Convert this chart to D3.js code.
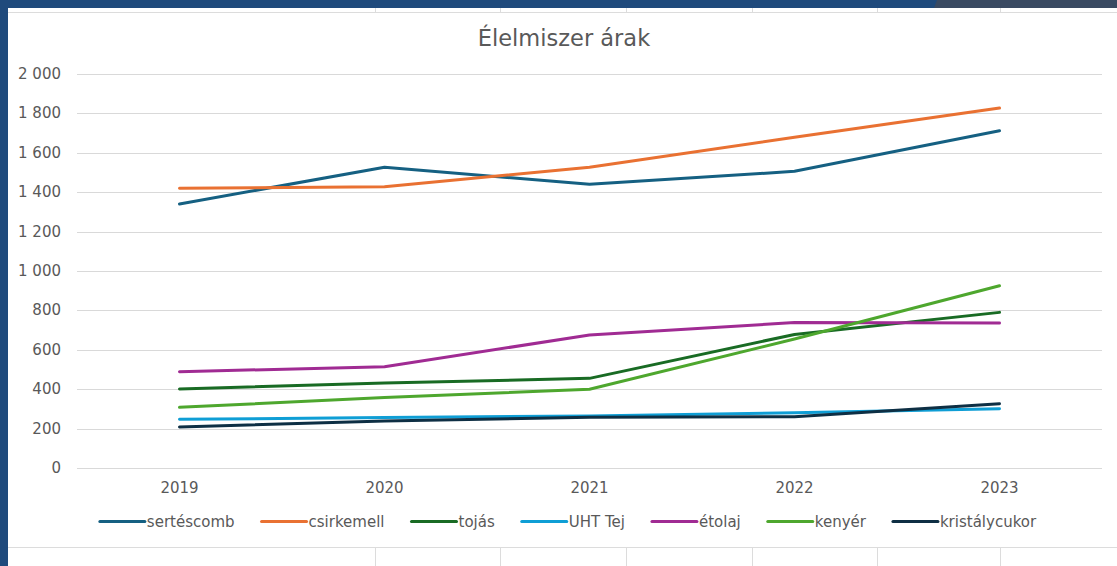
<!DOCTYPE html>
<html>
<head>
<meta charset="utf-8">
<script src="https://cdn.jsdelivr.net/npm/d3@7"></script>
<style>
  body { margin: 0; background: #fff; }
  svg { display: block; }
  text { font-family: "DejaVu Sans", "Liberation Sans", sans-serif; fill: #595959; }
</style>
</head>
<body>
<svg width="1117" height="566"></svg>
<script>
const years = ["2019", "2020", "2021", "2022", "2023"]
const yTicks = [0, 200, 400, 600, 800, 1000, 1200, 1400, 1600, 1800, 2000]

const sertescomb = [1340, 1527, 1440, 1506, 1712]
const csirkemell = [1420, 1428, 1527, 1679, 1827]
const tojas = [401, 431, 455, 678, 790]
const uhtTej = [247, 256, 264, 281, 301]
const etolaj = [489, 514, 675, 738, 736]
const kenyer = [308, 358, 400, 655, 925]
const kristalycukor = [208, 239, 257, 260, 326]

const seriesNames = ["sertéscomb", "csirkemell", "tojás", "UHT Tej", "étolaj", "kenyér", "kristálycukor"]
const seriesValues = [sertescomb, csirkemell, tojas, uhtTej, etolaj, kenyer, kristalycukor]
const seriesColors = ["#156082", "#e97132", "#196b24", "#0f9ed5", "#a02b93", "#4ea72e", "#0e2f44"]

const svg = d3.select("svg"),
    width = +svg.attr("width"),
    height = +svg.attr("height")

// spreadsheet bits around the chart object
svg.append("rect").attr("x", 0).attr("y", 0).attr("width", width).attr("height", 8).attr("fill", "#1f4a7c")
svg.append("path").attr("d", "M937,0 L1117,0 L1117,8 L934,8 Z").attr("fill", "#3a4a62")
svg.append("rect").attr("x", 0).attr("y", 0).attr("width", 8).attr("height", height).attr("fill", "#1f4a7c")
svg.append("line").attr("x1", 8).attr("x2", width).attr("y1", 12.5).attr("y2", 12.5).attr("stroke", "#dcdcdc")
svg.append("line").attr("x1", 8).attr("x2", width).attr("y1", 547.5).attr("y2", 547.5).attr("stroke", "#dcdcdc")
const cols = [375, 500, 626, 752, 877, 1000]
cols.forEach(function (c) {
    svg.append("line").attr("x1", c + .5).attr("x2", c + .5).attr("y1", 8).attr("y2", 12).attr("stroke", "#dcdcdc")
    svg.append("line").attr("x1", c + .5).attr("x2", c + .5).attr("y1", 548).attr("y2", height).attr("stroke", "#dcdcdc")
})

// scales
const x = d3.scaleBand().domain(years).range([77, 1102]),
    y = d3.scaleLinear().domain([0, 2000]).range([468, 74])
const cx = d => x(d) + x.bandwidth() / 2

const fmt = d3.formatLocale({ decimal: ",", thousands: "\u00a0", grouping: [3], currency: ["", ""] }).format(",d")

// title
svg.append("text")
    .attr("x", 564).attr("y", 46)
    .attr("text-anchor", "middle")
    .style("font-size", "22.5px")
    .text("Élelmiszer árak")

// gridlines + y labels
svg.selectAll(".grid")
    .data(yTicks)
    .enter()
    .append("line")
    .attr("x1", 77).attr("x2", 1102)
    .attr("y1", d => Math.round(y(d)) + .5)
    .attr("y2", d => Math.round(y(d)) + .5)
    .attr("stroke", "#d9d9d9")

svg.selectAll(".ylab")
    .data(yTicks)
    .enter()
    .append("text")
    .attr("x", 61)
    .attr("y", d => y(d) + 5)
    .attr("text-anchor", "end")
    .style("font-size", "15px")
    .text(d => fmt(d))

// x labels
svg.selectAll(".xlab")
    .data(years)
    .enter()
    .append("text")
    .attr("x", d => cx(d))
    .attr("y", 493)
    .attr("text-anchor", "middle")
    .style("font-size", "15px")
    .text(d => d)

// lines
const line = d3.line()
    .x((d, i) => cx(years[i]))
    .y(d => y(d))

svg.selectAll(".series")
    .data(seriesValues)
    .enter()
    .append("path")
    .attr("d", d => line(d))
    .attr("fill", "none")
    .attr("stroke", (d, i) => seriesColors[i])
    .attr("stroke-width", 3)
    .attr("stroke-linecap", "round")
    .attr("stroke-linejoin", "round")

// legend, laid out from the text widths and centred
const legend = svg.append("g")
let lx = 0
seriesNames.forEach(function (name, i) {
    const g = legend.append("g").attr("transform", "translate(" + lx + ",0)")
    g.append("line")
        .attr("x1", 0).attr("x2", 45)
        .attr("y1", 0).attr("y2", 0)
        .attr("stroke", seriesColors[i])
        .attr("stroke-width", 3)
        .attr("stroke-linecap", "round")
    const t = g.append("text")
        .attr("x", 47).attr("y", 5)
        .style("font-size", "15px")
        .text(name)
    lx += 47 + t.node().getComputedTextLength() + 27
})
lx -= 27
legend.attr("transform", "translate(" + (568 - lx / 2) + ",521.5)")
</script>
</body>
</html>
